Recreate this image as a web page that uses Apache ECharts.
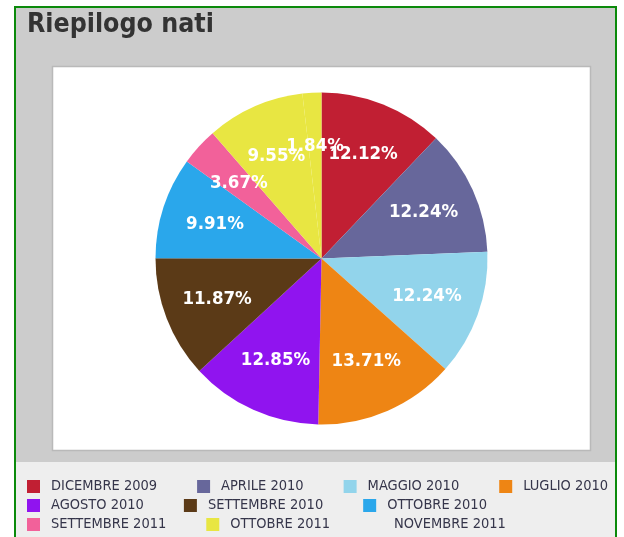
<!DOCTYPE html>
<html>
<head>
<meta charset="utf-8">
<script src="https://cdn.jsdelivr.net/npm/echarts@6/dist/echarts.min.js"></script>
<style>
    html, body { margin: 0; padding: 0; background: #fff; }
    #chart { width: 624px; height: 537px; }
</style>
</head>
<body>
<div id="chart"></div>
<script>
"use strict";

var months = ['DICEMBRE 2009', 'APRILE 2010', 'MAGGIO 2010', 'LUGLIO 2010', 'AGOSTO 2010',
    'SETTEMBRE 2010', 'OTTOBRE 2010', 'SETTEMBRE 2011', 'OTTOBRE 2011', 'NOVEMBRE 2011'];
var percents = [12.12, 12.24, 12.24, 13.71, 12.85, 11.87, 9.91, 3.67, 9.55, 1.84];
var colors = ['#c11f33', '#67679b', '#92d4eb', '#ee8514', '#9014ef',
    '#5b3a17', '#2aa7eb', '#f2619a', '#e8e642', '#e8e642'];

var font = '"DejaVu Sans Condensed", "Liberation Sans Narrow", sans-serif';

var pieData = months.map(function (m, i) {
    return {name: m, value: percents[i], itemStyle: {color: colors[i]}};
});

function legendRow(names, top) {
    return {
        orient: 'horizontal',
        left: 27,
        top: top,
        padding: 0,
        itemGap: 40,
        itemWidth: 13,
        itemHeight: 13,
        icon: 'rect',
        selectedMode: false,
        textStyle: {
            fontFamily: font,
            fontSize: 14.5,
            color: '#35354a',
            padding: [0, 0, 0, 6]
        },
        data: names.map(function (n) {
            // the last month has no swatch in the original
            if (n === 'NOVEMBRE 2011') {
                return {name: n, itemStyle: {opacity: 0}};
            }
            return n;
        })
    };
}

var chart = echarts.init(document.getElementById('chart'));
chart.setOption({
    animation: false,
    title: {
        text: 'Riepilogo nati',
        left: 27,
        top: 12,
        padding: 0,
        textStyle: {
            fontFamily: font,
            fontSize: 26.5,
            fontWeight: 'bold',
            color: '#333333'
        }
    },
    graphic: [
        // outer panel with green frame
        {type: 'rect', z: -10, shape: {x: 15, y: 7, width: 601, height: 540},
            style: {fill: '#cccccc', stroke: '#0b8a0b', lineWidth: 2}},
        {type: 'rect', z: -9, shape: {x: 16, y: 462, width: 599, height: 80},
            style: {fill: '#eeeeee'}},
        // white plot box
        {type: 'rect', z: -8, shape: {x: 52.5, y: 66.5, width: 538, height: 384},
            style: {fill: '#ffffff', stroke: '#b9b9b9', lineWidth: 1.5}}
    ],
    legend: [
        legendRow(months.slice(0, 4), 479),
        legendRow(months.slice(4, 7), 498),
        legendRow(months.slice(7), 517)
    ],
    series: [{
        type: 'pie',
        center: [321.5, 258.5],
        radius: [0, 166],
        startAngle: 90,
        clockwise: true,
        silent: true,
        label: {show: false},
        labelLine: {show: false},
        itemStyle: {borderWidth: 0},
        data: pieData
    }, {
        // label ring: places the percentages at about two thirds of the radius
        type: 'pie',
        center: [321.5, 258.5],
        radius: [52, 166],
        startAngle: 90,
        clockwise: true,
        silent: true,
        avoidLabelOverlap: false,
        minShowLabelAngle: 0,
        labelLayout: {hideOverlap: false},
        itemStyle: {color: 'rgba(0,0,0,0)', borderWidth: 0},
        label: {
            show: true,
            position: 'inside',
            formatter: '{d}%',
            fontFamily: font,
            fontSize: 18.5,
            fontWeight: 'bold',
            color: '#ffffff'
        },
        labelLine: {show: false},
        data: months.map(function (m, i) {
            return {name: m, value: percents[i]};
        })
    }]
});
</script>
</body>
</html>
